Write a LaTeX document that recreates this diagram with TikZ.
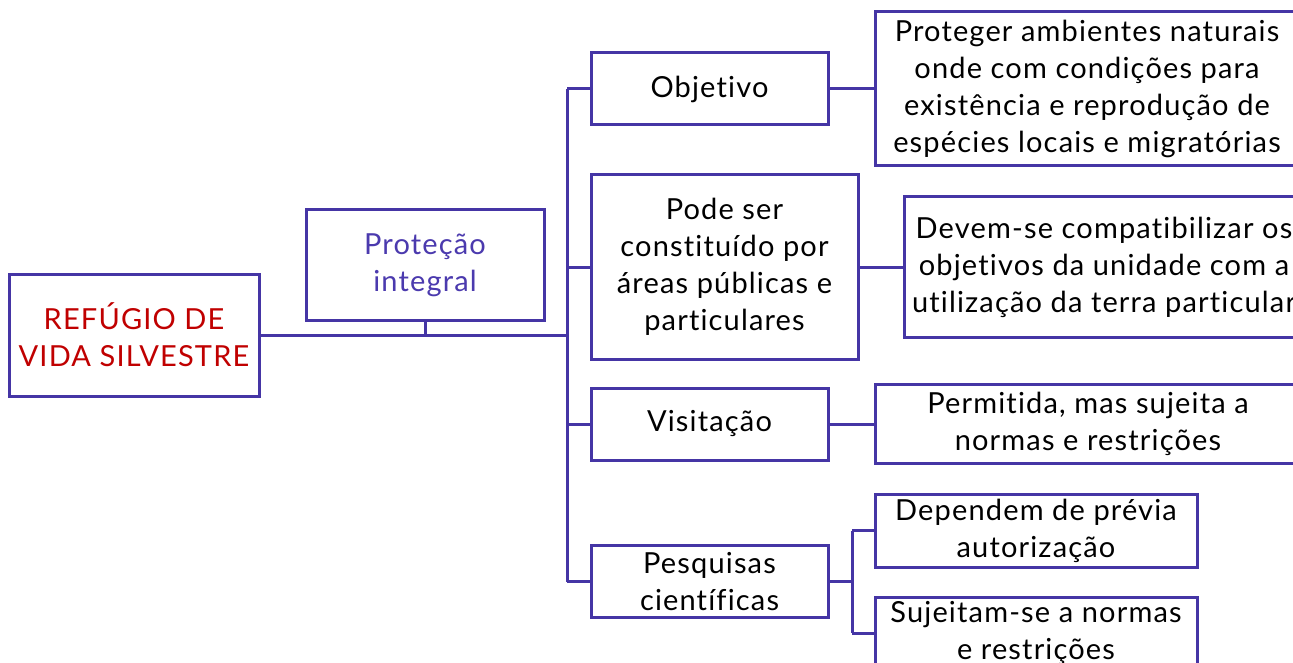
\documentclass[tikz,border=0pt]{standalone}
\usepackage{fontspec}
\setmainfont{Lato}[LetterSpace=4,Ligatures={NoCommon,NoRare}]
\definecolor{bord}{HTML}{4535A5}
\definecolor{ptxt}{HTML}{4B3AAE}
\definecolor{rtxt}{HTML}{C00000}
\begin{document}
\begin{tikzpicture}[x=1pt,y=-1pt,
  box/.style={draw=bord,line width=3pt,rectangle,inner sep=0pt,align=center,
    font=\fontsize{29}{37}\selectfont,text=black},
  conn/.style={draw=bord,line width=3pt}]
\useasboundingbox (0,0) rectangle (1293,663);
\clip (0,0) rectangle (1293,663);
% nodes
\node[box,text=rtxt,minimum width=250pt,minimum height=122pt] (ref) at (134,335) {REFÚGIO DE\\VIDA SILVESTRE};
\node[box,text=ptxt,minimum width=238pt,minimum height=110pt] (prot) at (425,265) {Proteção\\integral};
\node[box,minimum width=237pt,minimum height=72pt] (obj) at (709.5,89) {Objetivo};
\node[box,minimum width=267pt,minimum height=184pt] (pode) at (724.5,267) {Pode ser\\constituído por\\áreas públicas e\\particulares};
\node[box,minimum width=237pt,minimum height=72pt] (vis) at (709.5,424) {Visitação};
\node[box,minimum width=237pt,minimum height=72pt] (pesq) at (709.5,581.5) {Pesquisas\\científicas};
\node[box,minimum width=424pt,minimum height=154pt] (prog) at (1087,89) {Proteger ambientes naturais\\onde com condições para\\existência e reprodução de\\espécies locais e migratórias};
\node[box,minimum width=400pt,minimum height=140pt] (dev) at (1104,267) {Devem-se compatibilizar os\\objetivos da unidade com a\\utilização da terra particular};
\node[box,minimum width=426pt,minimum height=79pt] (perm) at (1088,424) {Permitida, mas sujeita a\\normas e restrições};
\node[box,minimum width=322pt,minimum height=73pt] (dep) at (1036,530.5) {Dependem de prévia\\autorização};
\node[box,minimum width=322pt,minimum height=72pt] (suj) at (1036,633) {Sujeitam-se a normas\\e restrições};
% junctions
\coordinate (jm) at (567,335);
\coordinate (ja) at (567,89);
\coordinate (jb) at (567,267);
\coordinate (jc) at (567,424);
\coordinate (jd) at (567,581.5);
\coordinate (je) at (852,581.5);
\coordinate (je1) at (852,530.5);
\coordinate (je2) at (852,633);
% connectors
\draw[conn] (ref.east) -- (jm);
\draw[conn] (prot.south) -- (prot.south |- jm);
\draw[conn] (ja) -- (jd);
\draw[conn] (ja) -- (obj.west);
\draw[conn] (jb) -- (pode.west);
\draw[conn] (jc) -- (vis.west);
\draw[conn] (jd) -- (pesq.west);
\draw[conn] (obj.east) -- (prog.west);
\draw[conn] (pode.east) -- (dev.west);
\draw[conn] (vis.east) -- (perm.west);
\draw[conn] (pesq.east) -- (je);
\draw[conn] (je1) -- (je2);
\draw[conn] (je1) -- (dep.west);
\draw[conn] (je2) -- (suj.west);
\end{tikzpicture}
\end{document}
